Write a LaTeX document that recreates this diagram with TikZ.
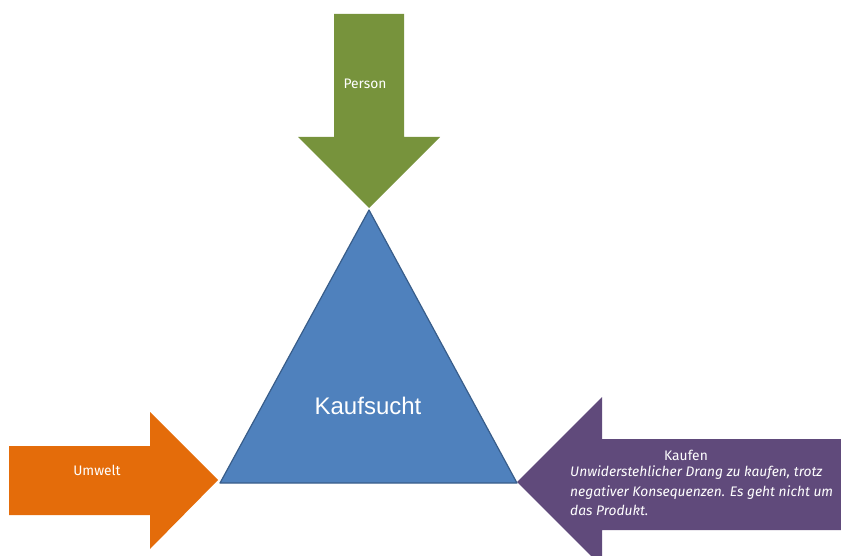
\documentclass[tikz,border=0pt]{standalone}
\usepackage{fontspec}
\setmainfont{Fira Sans}
\newfontfamily\arialfont{Liberation Sans}
\definecolor{G}{RGB}{119, 147, 60}
\definecolor{O}{RGB}{228, 108, 10}
\definecolor{P}{RGB}{96, 74, 123}
\definecolor{B}{RGB}{79, 129, 189}
\definecolor{BD}{RGB}{56, 93, 138}

\begin{document}
\begin{tikzpicture}[x=1pt, y=-1pt, label/.style={text=white, font=\fontsize{13.8}{19.5}\selectfont, inner sep=0pt}]
  \useasboundingbox (0,0) rectangle (841,556);
  \clip (0,0) rectangle (841,556);
  % Person
  \fill[G] (334,14) -- (404,14) -- (404,137) -- (440,137) -- (369,208) -- (298,137) -- (334,137) -- cycle;
  % Umwelt
  \fill[O] (9,446) -- (150,446) -- (150,412) -- (218,480) -- (150,549) -- (150,515) -- (9,515) -- cycle;
  % Kaufen
  \fill[P] (845,439) -- (602,439) -- (602,397) -- (517,482) -- (602,567) -- (602,530) -- (845,530) -- cycle;
  % Kaufsucht
  \draw[BD, fill=B, line width=1.2pt, line join=round] (369,210) -- (517,483) -- (220,483) -- cycle;
  \node[label, font=\arialfont\fontsize{24}{28}\selectfont] (kaufsucht) at (368,406) {Kaufsucht};
  \node[label] (person) at (365,84) {Person};
  \node[label] (umwelt) at (97,470) {Umwelt};
  \node[label] (kaufen) at (686,455) {Kaufen};
  \node[label, anchor=north west, align=left, font=\itshape\fontsize{13.8}{19.5}\selectfont] (drang) at (570,466)
    {Unwiderstehlicher Drang zu kaufen, trotz\\ negativer Konsequenzen. Es geht nicht um\\ das Produkt.};
\end{tikzpicture}
\end{document}
